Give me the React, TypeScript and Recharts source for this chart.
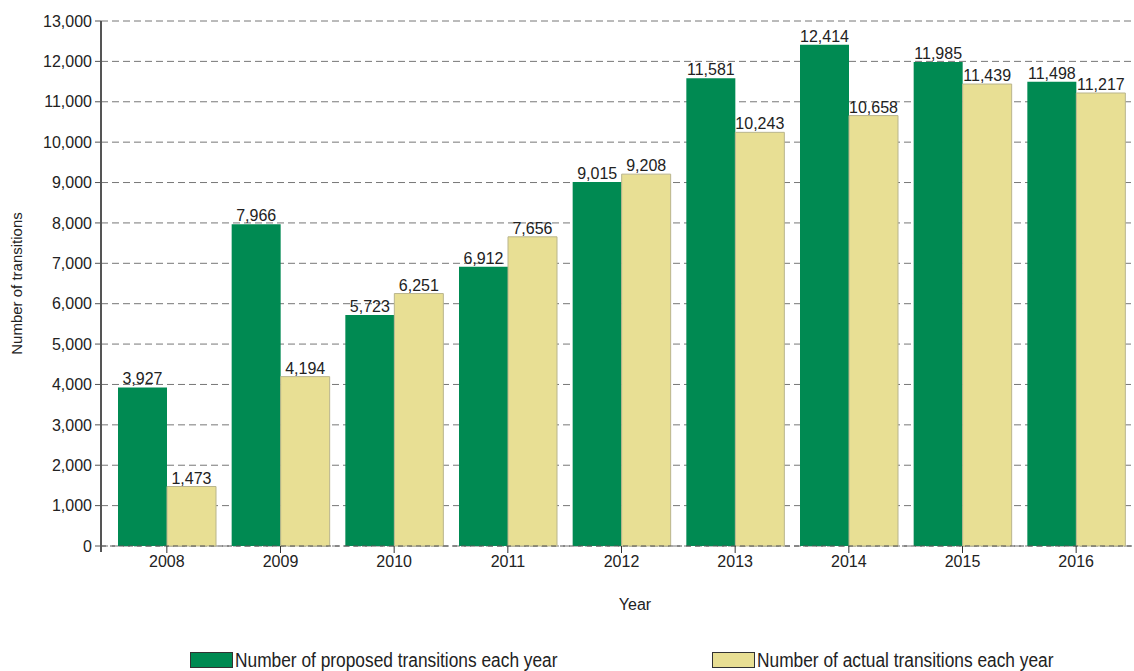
import { Bar, BarChart, CartesianGrid, LabelList, Legend, XAxis, YAxis } from 'recharts';

const years = ['2008', '2009', '2010', '2011', '2012', '2013', '2014', '2015', '2016'];
const proposed = [3927, 7966, 5723, 6912, 9015, 11581, 12414, 11985, 11498];
const actual = [1473, 4194, 6251, 7656, 9208, 10243, 10658, 11439, 11217];
const yTicks = [0, 1000, 2000, 3000, 4000, 5000, 6000, 7000, 8000, 9000, 10000, 11000, 12000, 13000];

const GREEN = '#008A52';
const YELLOW = '#E8DF94';
const TEXT = '#222';
const FONT = '"Liberation Sans", Arial, sans-serif';

const rows = years.map((year, i) => ({ year, proposed: proposed[i], actual: actual[i] }));
const fmt = (v: number) => v.toLocaleString('en-US');

// the legend text in the original is a condensed face; squeeze a regular one
function ChartLegend() {
  const item = (left: number, color: string, text: string) => (
    <div style={{ position: 'absolute', left, top: 26, height: 16, display: 'flex', alignItems: 'center' }}>
      <span style={{ width: 41, height: 14, background: color, border: '1px solid #333', display: 'inline-block', flex: 'none' }} />
      <span
        style={{
          marginLeft: 2,
          fontFamily: FONT,
          fontSize: 20,
          lineHeight: '16px',
          color: TEXT,
          whiteSpace: 'nowrap',
          display: 'inline-block',
          transform: 'scaleX(0.866)',
          transformOrigin: 'left center',
        }}
      >
        {text}
      </span>
    </div>
  );
  return (
    <div style={{ position: 'relative', width: 1134, height: 45 }}>
      {item(190, GREEN, 'Number of proposed transitions each year')}
      {item(712, YELLOW, 'Number of actual transitions each year')}
    </div>
  );
}

export default function App() {
  return (
    <div style={{ position: 'absolute', left: 0, top: 0 }}>
      <BarChart
        width={1134}
        height={671}
        data={rows}
        margin={{ top: 21, right: 1, left: 0, bottom: 0 }}
        barCategoryGap={8}
        barGap={0}
        style={{ fontFamily: FONT }}
      >
        <CartesianGrid vertical={false} stroke="#777" strokeDasharray="7 4" />
        <XAxis
          dataKey="year"
          height={80}
          padding={{ left: 9, right: 0 }}
          tickSize={7}
          tickMargin={3}
          tick={{ fill: TEXT, fontSize: 16 }}
          axisLine={{ stroke: '#555', strokeDasharray: '5 4' }}
          tickLine={{ stroke: '#333' }}
          label={{
            content: ({ viewBox }: any) => (
              <text x={viewBox.x + viewBox.width / 2 + 18} y={610} textAnchor="middle" fill={TEXT} fontSize={16}>
                Year
              </text>
            ),
          }}
        />
        <YAxis
          width={101}
          domain={[0, 13000]}
          ticks={yTicks}
          interval={0}
          tickFormatter={fmt}
          tickSize={6}
          tickMargin={3}
          tick={{ fill: TEXT, fontSize: 16 }}
          axisLine={{ stroke: '#555', strokeWidth: 2 }}
          tickLine={{ stroke: '#555' }}
          label={{
            content: ({ viewBox }: any) => (
              <g>
                <line x1={viewBox.x + viewBox.width} x2={viewBox.x + viewBox.width} y1={viewBox.y + viewBox.height} y2={viewBox.y + viewBox.height + 6} stroke="#555" strokeWidth={2} />
                <text
                  x={18}
                  y={viewBox.y + viewBox.height / 2}
                  transform={`rotate(-90 18 ${viewBox.y + viewBox.height / 2})`}
                  textAnchor="middle"
                  dominantBaseline="middle"
                  fill={TEXT}
                  fontSize={15}
                >
                  Number of transitions
                </text>
              </g>
            ),
          }}
        />
        <Legend verticalAlign="bottom" content={() => <ChartLegend />} />
        <Bar dataKey="proposed" fill={GREEN} isAnimationActive={false}>
          <LabelList dataKey="proposed" position="top" offset={3} formatter={(v: any) => fmt(Number(v))} fill={TEXT} fontSize={16} />
        </Bar>
        <Bar dataKey="actual" fill={YELLOW} stroke="#B9B58C" strokeWidth={1} isAnimationActive={false}>
          <LabelList dataKey="actual" position="top" offset={3} formatter={(v: any) => fmt(Number(v))} fill={TEXT} fontSize={16} />
        </Bar>
      </BarChart>
    </div>
  );
}
